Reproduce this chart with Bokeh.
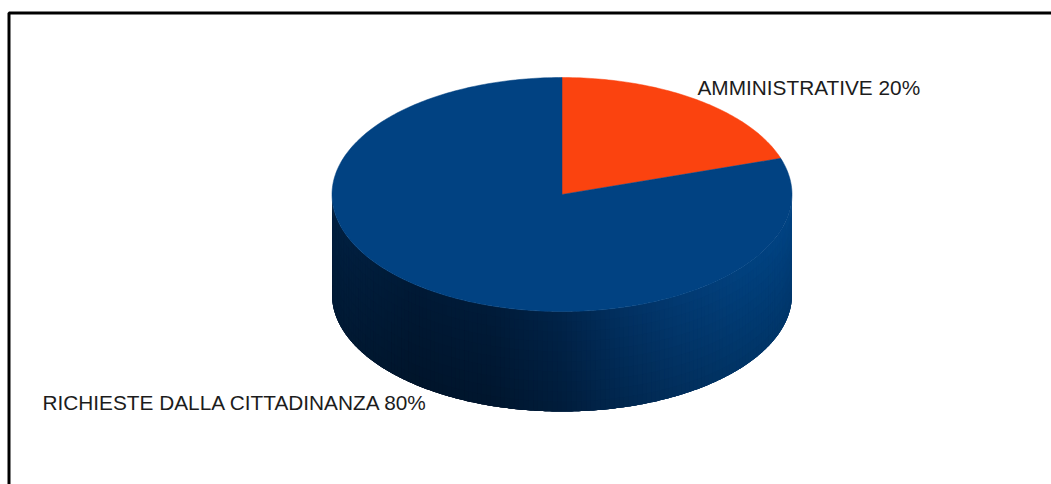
import math
from bokeh.core.properties import value
from bokeh.embed import file_html
from bokeh.plotting import figure
from bokeh.resources import INLINE

# Chart content
categories = ["AMMINISTRATIVE", "RICHIESTE DALLA CITTADINANZA"]
shares = [20, 80]
labels = ["AMMINISTRATIVE 20%", "RICHIESTE DALLA CITTADINANZA 80%"]
slice_colors = ["#fb430f", "#014282"]

# Cylinder geometry, in page pixels
CX, CY, RX, RY, DEPTH = 561.5, 194, 230, 117, 100

# Shading of the cylinder wall from its left edge to its right edge
WALL_STOPS = [
    (0.00, (2, 33, 66)),
    (0.18, (0, 26, 54)),
    (0.35, (0, 28, 58)),
    (0.50, (1, 36, 74)),
    (0.62, (2, 48, 96)),
    (0.75, (3, 58, 114)),
    (0.88, (2, 65, 126)),
    (1.00, (2, 68, 132)),
]


def ramp(t):
    for (t0, c0), (t1, c1) in zip(WALL_STOPS, WALL_STOPS[1:]):
        if t <= t1:
            f = (t - t0) / (t1 - t0)
            return tuple(a + (b - a) * f for a, b in zip(c0, c1))
    return WALL_STOPS[-1][1]


def rim(theta):
    """Point on the top ellipse, theta measured clockwise from twelve o'clock."""
    return CX + RX * math.sin(theta), CY - RY * math.cos(theta)


p = figure(
    width=1051, height=484, x_range=(0, 1051), y_range=(484, 0),
    output_backend="svg", toolbar_location=None, min_border=0,
    background_fill_color="white", border_fill_color="white",
)
p.axis.visible = False
p.grid.visible = False
p.outline_line_color = None

# Wall of the cylinder: shaded facets painted in order, each one running
# under its neighbour so that no seams show between them
xs, ys, cols = [], [], []
columns, rows = 150, 10
step = math.pi / columns
for i in range(columns):
    a0 = math.pi / 2 + step * i
    a1 = a0 + step * (2 if i < columns - 1 else 1)
    mid = a0 + step / 2
    pts = [rim(a0 + (a1 - a0) * k / 4) for k in range(5)]
    top_x = [q[0] for q in pts]
    top_y = [q[1] for q in pts]
    base = ramp((math.sin(mid) + 1) / 2)
    for j in range(rows):
        d0 = DEPTH * j / rows
        d1 = DEPTH if j == rows - 1 else DEPTH * (j + 2) / rows
        shade = 1.0 - 0.2 * (j + 0.5) / rows
        xs.append(top_x + top_x[::-1])
        ys.append([y + d0 for y in top_y] + [y + d1 for y in top_y[::-1]])
        cols.append("#%02x%02x%02x" % tuple(int(c * shade) for c in base))
p.patches(xs, ys, fill_color=cols, line_color=None)

# Top face: one wedge per share, clockwise from twelve o'clock
total = sum(shares)
start = 0.0
for share, color in zip(shares, slice_colors):
    end = start + 2 * math.pi * share / total
    steps = max(2, int(share * 4))
    pts = [rim(start + (end - start) * k / steps) for k in range(steps + 1)]
    p.patch(
        [CX] + [q[0] for q in pts], [CY] + [q[1] for q in pts],
        fill_color=color, line_color=color, line_width=0.5,
    )
    start = end

# Slice labels
p.text(
    x=[697, 42], y=[87, 402], text=labels,
    text_font=value("Liberation Sans"), text_font_size="20.8px",
    text_color="#1c1c1c", text_align="left", text_baseline="middle",
)

# Frame along the top and left edges
p.line([8.5, 8.5, 1051], [484, 12.5, 12.5], line_color="black", line_width=3)

open("out.html", "w").write(file_html(p, INLINE))
